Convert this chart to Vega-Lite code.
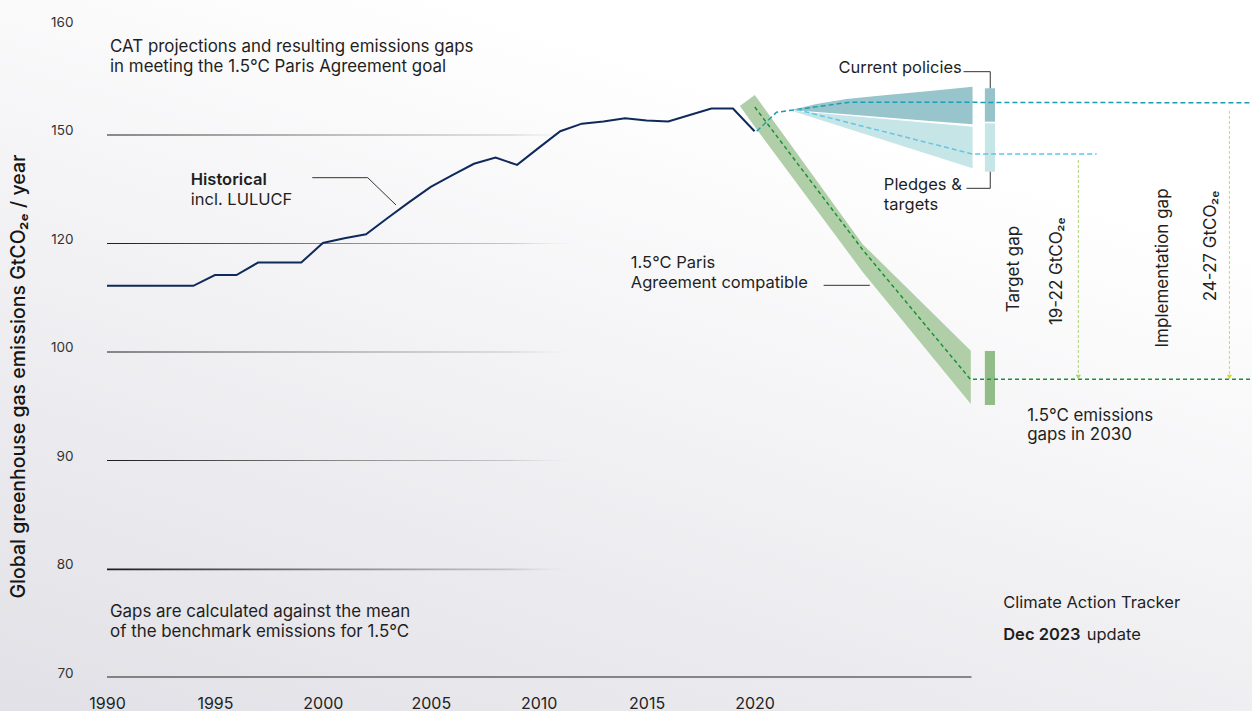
{
  "$schema": "https://vega.github.io/schema/vega-lite/v6.json",
  "width": 1144,
  "height": 651,
  "autosize": {"type": "none"},
  "padding": {"left": 107, "top": 26, "right": 1, "bottom": 34},
  "background": "#f0f0f3",
  "config": {"view": {"stroke": null}, "font": "Inter"},
  "datasets": {
    "backdrop": [{"x": 1985, "x2": 2043.1, "y": 162.5, "y2": 66.8}],
    "grid": [
      {"x": 1990, "x2": 2012, "y": 150, "y2": 149.72},
      {"x": 1990, "x2": 2012, "y": 120, "y2": 119.82},
      {"x": 1990, "x2": 2012, "y": 100, "y2": 99.91},
      {"x": 1990, "x2": 2012, "y": 90, "y2": 89.91},
      {"x": 1990, "x2": 2012, "y": 80, "y2": 79.83}
    ],
    "base": [{"x": 1990, "x2": 2030.05, "y": 70}],
    "hist": [
      {"x": 1990, "y": 112.1}, {"x": 1991, "y": 112.1}, {"x": 1992, "y": 112.1}, {"x": 1993, "y": 112.1},
      {"x": 1994, "y": 112.1}, {"x": 1995, "y": 114.1}, {"x": 1996, "y": 114.1}, {"x": 1997, "y": 116.4},
      {"x": 1998, "y": 116.4}, {"x": 1999, "y": 116.4}, {"x": 2000, "y": 120.0}, {"x": 2001, "y": 121.3},
      {"x": 2002, "y": 122.4}, {"x": 2003, "y": 126.9}, {"x": 2004, "y": 131.3}, {"x": 2005, "y": 135.5},
      {"x": 2006, "y": 138.8}, {"x": 2007, "y": 141.9}, {"x": 2008, "y": 143.6}, {"x": 2009, "y": 141.6},
      {"x": 2010, "y": 146.3}, {"x": 2011, "y": 150.3}, {"x": 2012, "y": 151.0}, {"x": 2013, "y": 151.2},
      {"x": 2014, "y": 151.5}, {"x": 2015, "y": 151.3}, {"x": 2016, "y": 151.2}, {"x": 2017, "y": 151.8},
      {"x": 2018, "y": 152.4}, {"x": 2019, "y": 152.4}, {"x": 2020, "y": 150.3}
    ],
    "cpBand": [
      {"x": 2021.71, "y": 152.26, "y2": 152.26},
      {"x": 2022.87, "y": 152.81, "y2": 152.08},
      {"x": 2024.26, "y": 153.27, "y2": 151.86},
      {"x": 2026.11, "y": 153.64, "y2": 151.57},
      {"x": 2028.12, "y": 154.01, "y2": 151.25},
      {"x": 2030.1, "y": 154.41, "y2": 150.94}
    ],
    "plBand": [
      {"x": 2021.71, "y": 152.2, "y2": 152.2},
      {"x": 2030.1, "y": 150.72, "y2": 140.65}
    ],
    "grBand": [
      {"x": 2019.32, "y": 152.63, "y2": 152.63},
      {"x": 2020.01, "y": 153.64, "y2": 150.72},
      {"x": 2025.0, "y": 119.82, "y2": 114.71},
      {"x": 2030.02, "y": 100.15, "y2": 95.16}
    ],
    "bars": [
      {"s": "cp", "x": 2030.67, "x2": 2031.14, "y": 154.26, "y2": 151.18},
      {"s": "pl", "x": 2030.67, "x2": 2031.14, "y": 151.03, "y2": 139.71},
      {"s": "gr", "x": 2030.67, "x2": 2031.14, "y": 100.1, "y2": 95.07}
    ],
    "cpLine": [
      {"o": 1, "x": 2020.1, "y": 150.3}, {"o": 2, "x": 2021.02, "y": 152.05}, {"o": 3, "x": 2021.95, "y": 152.3},
      {"o": 4, "x": 2024.42, "y": 152.98}, {"o": 5, "x": 2043, "y": 152.92}
    ],
    "plLine": [
      {"o": 1, "x": 2021.95, "y": 152.3}, {"o": 2, "x": 2030.1, "y": 144.6}, {"o": 3, "x": 2035.85, "y": 144.6}
    ],
    "grLine": [
      {"o": 1, "x": 2020.01, "y": 152.53}, {"o": 2, "x": 2025.0, "y": 118.8}, {"o": 3, "x": 2030.0, "y": 97.44},
      {"o": 4, "x": 2043, "y": 97.44}
    ],
    "tgap": [{"o": 1, "x": 2035, "y": 142.95}, {"o": 2, "x": 2035, "y": 97.7}],
    "igap": [{"o": 1, "x": 2042, "y": 152.17}, {"o": 2, "x": 2042, "y": 97.7}],
    "tgapHead": [{"x": 2035, "y": 97.65}],
    "igapHead": [{"x": 2042, "y": 97.65}],
    "leaders": [
      {"g": "hist", "o": 1, "x": 1999.51, "y": 138.06}, {"g": "hist", "o": 2, "x": 2002.08, "y": 138.06}, {"g": "hist", "o": 3, "x": 2003.39, "y": 130.5},
      {"g": "paris", "o": 1, "x": 2023.2, "y": 112.2}, {"g": "paris", "o": 2, "x": 2025.34, "y": 112.2},
      {"g": "cp", "o": 1, "x": 2029.68, "y": 155.79}, {"g": "cp", "o": 2, "x": 2030.92, "y": 155.79}, {"g": "cp", "o": 3, "x": 2030.92, "y": 154.26},
      {"g": "pl", "o": 1, "x": 2030.92, "y": 139.71}, {"g": "pl", "o": 2, "x": 2030.92, "y": 135.12}, {"g": "pl", "o": 3, "x": 2029.82, "y": 135.12}
    ],
    "titleText": [
      {"x": 1990.14, "y": 158.04, "t": "CAT projections and resulting emissions gaps"},
      {"x": 1990.14, "y": 156.25, "t": "in meeting the 1.5°C Paris Agreement goal"},
      {"x": 1990.14, "y": 76.02, "t": "Gaps are calculated against the mean"},
      {"x": 1990.14, "y": 74.18, "t": "of the benchmark emissions for 1.5°C"},
      {"x": 2032.63, "y": 94.08, "t": "1.5°C emissions"},
      {"x": 2032.63, "y": 92.3, "t": "gaps in 2030"}
    ],
    "annText": [
      {"x": 1993.88, "y": 131.89, "t": "incl. LULUCF"},
      {"x": 2014.27, "y": 116.37, "t": "1.5°C Paris"},
      {"x": 2014.27, "y": 112.57, "t": "Agreement compatible"},
      {"x": 2025.99, "y": 136.04, "t": "Pledges &"},
      {"x": 2025.99, "y": 130.5, "t": "targets"},
      {"x": 2031.52, "y": 76.85, "t": "Climate Action Tracker"},
      {"x": 2035.39, "y": 73.87, "t": "update"}
    ],
    "boldText": [
      {"x": 1993.88, "y": 137.42, "t": "Historical"},
      {"x": 2031.52, "y": 73.87, "t": "Dec 2023"}
    ],
    "rightText": [{"x": 2029.6, "y": 156.1, "t": "Current policies"}],
    "rotText": [
      {"x": 2032.01, "y": 115.2, "t": "Target gap"},
      {"x": 2033.99, "y": 114.8, "t": "19-22 GtCO₂ₑ"},
      {"x": 2038.92, "y": 115.4, "t": "Implementation gap"},
      {"x": 2041.17, "y": 119.45, "t": "24-27 GtCO₂ₑ"}
    ]
  },
  "encoding": {
    "x": {
      "field": "x", "type": "quantitative",
      "scale": {"domain": [1990, 2043], "nice": false, "zero": false},
      "axis": {"zindex": 1, "values": [1990, 1995, 2000, 2005, 2010, 2015, 2020], "format": "d", "title": null, "grid": false, "ticks": false, "domain": false, "labelFontSize": 16, "labelColor": "#222222", "labelPadding": 18, "labelFlush": false, "labelOverlap": false}
    },
    "y": {
      "field": "y", "type": "quantitative",
      "scale": {"domain": [70, 80, 90, 100, 120, 150, 160], "range": [651, 542.5, 434, 325.5, 217, 108.5, 0], "nice": false, "zero": false},
      "axis": {"zindex": 1, "values": [70, 80, 90, 100, 120, 150, 160], "title": "Global greenhouse gas emissions GtCO₂ₑ / year", "grid": false, "ticks": false, "domain": false, "labelFontSize": 13.5, "labelColor": "#333333", "labelPadding": 34, "labelOffset": -4, "labelFlush": false, "labelOverlap": false, "titleFontSize": 19.5, "titleFontWeight": 500, "titleColor": "#151515", "titleX": -89, "titleY": 350, "titleAngle": 270, "titleAlign": "center", "titleBaseline": "middle"}
    }
  },
  "layer": [
    {
      "data": {"name": "backdrop"},
      "mark": {"type": "rect", "stroke": null, "clip": false, "fill": {"gradient": "linear", "x1": 0.05, "y1": 1, "x2": 0.55, "y2": 0.1, "stops": [{"offset": 0, "color": "#e1e1e7"}, {"offset": 1, "color": "#ffffff"}]}},
      "encoding": {"x2": {"field": "x2"}, "y2": {"field": "y2"}}
    },
    {
      "data": {"name": "grid"},
      "mark": {"type": "rect", "stroke": null, "fill": {"gradient": "linear", "x1": 0, "y1": 0, "x2": 1, "y2": 0, "stops": [{"offset": 0, "color": "#1c1c1c"}, {"offset": 0.5, "color": "#8a8a8a"}, {"offset": 0.85, "color": "#c8c8cc"}, {"offset": 1, "color": "rgba(240,240,244,0)"}]}},
      "encoding": {"x2": {"field": "x2"}, "y2": {"field": "y2"}}
    },
    {
      "data": {"name": "base"},
      "mark": {"type": "rule", "color": "#222222", "strokeWidth": 1},
      "encoding": {"x2": {"field": "x2"}}
    },
    {
      "data": {"name": "cpBand"},
      "mark": {"type": "area", "color": "#98c5cc", "opacity": 1},
      "encoding": {"y2": {"field": "y2"}}
    },
    {
      "data": {"name": "plBand"},
      "mark": {"type": "area", "color": "#c6e5e6", "opacity": 1},
      "encoding": {"y2": {"field": "y2"}}
    },
    {
      "data": {"name": "grBand"},
      "mark": {"type": "area", "color": "#b0cfa8", "opacity": 1},
      "encoding": {"y2": {"field": "y2"}}
    },
    {
      "data": {"name": "bars"},
      "mark": {"type": "rect", "stroke": null},
      "encoding": {
        "x2": {"field": "x2"}, "y2": {"field": "y2"},
        "color": {"field": "s", "type": "nominal", "scale": {"domain": ["cp", "pl", "gr"], "range": ["#96c3ca", "#c6e5e6", "#93bd88"]}, "legend": null}
      }
    },
    {
      "data": {"name": "hist"},
      "mark": {"type": "line", "color": "#0f2a5a", "strokeWidth": 2},
      "encoding": {}
    },
    {
      "data": {"name": "cpLine"},
      "mark": {"type": "line", "color": "#1a9fb0", "strokeWidth": 1.5, "strokeDash": [5, 3]},
      "encoding": {"order": {"field": "o"}}
    },
    {
      "data": {"name": "plLine"},
      "mark": {"type": "line", "color": "#62c5ea", "strokeWidth": 1.5, "strokeDash": [5, 3]},
      "encoding": {"order": {"field": "o"}}
    },
    {
      "data": {"name": "grLine"},
      "mark": {"type": "line", "color": "#1a9138", "strokeWidth": 1.5, "strokeDash": [4, 3]},
      "encoding": {"order": {"field": "o"}}
    },
    {
      "data": {"name": "tgap"},
      "mark": {"type": "line", "color": "#a9d46f", "strokeWidth": 1, "strokeDash": [3, 2]},
      "encoding": {"order": {"field": "o"}}
    },
    {
      "data": {"name": "igap"},
      "mark": {"type": "line", "color": "#d9d92a", "strokeWidth": 1, "strokeDash": [3, 2]},
      "encoding": {"order": {"field": "o"}}
    },
    {
      "data": {"name": "tgapHead"},
      "mark": {"type": "point", "shape": "triangle-down", "filled": true, "size": 30, "color": "#a9d46f", "opacity": 1}
    },
    {
      "data": {"name": "igapHead"},
      "mark": {"type": "point", "shape": "triangle-down", "filled": true, "size": 30, "color": "#d9d92a", "opacity": 1}
    },
    {
      "data": {"name": "leaders"},
      "mark": {"type": "line", "color": "#333333", "strokeWidth": 1},
      "encoding": {"detail": {"field": "g"}, "order": {"field": "o"}}
    },
    {
      "data": {"name": "titleText"},
      "mark": {"type": "text", "align": "left", "baseline": "middle", "fontSize": 16.9, "color": "#1f1f1f"},
      "encoding": {"text": {"field": "t"}}
    },
    {
      "data": {"name": "annText"},
      "mark": {"type": "text", "align": "left", "baseline": "middle", "fontSize": 16.5, "color": "#1f1f1f"},
      "encoding": {"text": {"field": "t"}}
    },
    {
      "data": {"name": "boldText"},
      "mark": {"type": "text", "align": "left", "baseline": "middle", "fontSize": 16.5, "fontWeight": 600, "color": "#1f1f1f"},
      "encoding": {"text": {"field": "t"}}
    },
    {
      "data": {"name": "rightText"},
      "mark": {"type": "text", "align": "right", "baseline": "middle", "fontSize": 16.5, "color": "#1f1f1f"},
      "encoding": {"text": {"field": "t"}}
    },
    {
      "data": {"name": "rotText"},
      "mark": {"type": "text", "align": "center", "baseline": "middle", "angle": 270, "fontSize": 17, "color": "#1f1f1f"},
      "encoding": {"text": {"field": "t"}}
    }
  ]
}
